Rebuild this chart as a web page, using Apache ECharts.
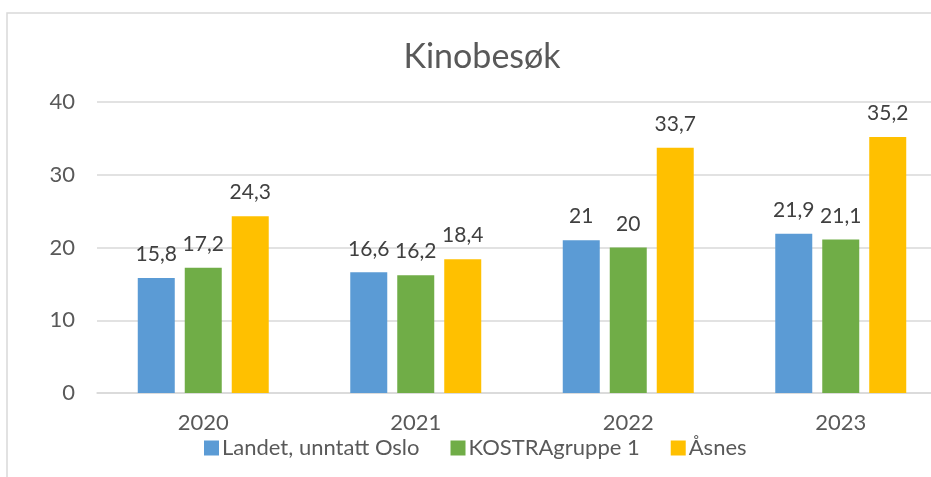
<!DOCTYPE html>
<html>
<head>
<meta charset="utf-8">
<script src="https://cdn.jsdelivr.net/npm/echarts@6/dist/echarts.min.js"></script>
<style>
  html, body { margin: 0; padding: 0; background: #fff; }
  #chart { width: 931px; height: 477px; }
</style>
</head>
<body>
<div id="chart"></div>
<script>
var years = ["2020", "2021", "2022", "2023"];
var landet = [15.8, 16.6, 21, 21.9];
var kostra = [17.2, 16.2, 20, 21.1];
var asnes = [24.3, 18.4, 33.7, 35.2];
var yTicks = [0, 10, 20, 30, 40];

var font = "Lato, 'Open Sans', sans-serif";

function fmt(v) {
  return String(v).replace(".", ",");
}

function barSeries(name, data, color) {
  return {
    name: name,
    type: "bar",
    data: data,
    barWidth: 37,
    barGap: "27%",
    itemStyle: { color: color },
    label: {
      show: true,
      position: "top",
      distance: 13,
      color: "#404040",
      fontFamily: font,
      fontSize: 21,
      formatter: function (p) { return fmt(p.value); }
    }
  };
}

var chart = echarts.init(document.getElementById("chart"));
chart.setOption({
  animation: false,
  textStyle: { fontFamily: font },
  graphic: [{
    type: "rect",
    shape: { x: 7, y: 13, width: 1200, height: 1000 },
    style: { fill: "none", stroke: "#d9d9d9", lineWidth: 1.5 },
    silent: true
  }],
  title: {
    text: "Kinobesøk",
    left: 477,
    textAlign: "center",
    top: 35,
    textStyle: { fontFamily: font, fontSize: 34, fontWeight: "normal", color: "#595959" }
  },
  legend: {
    data: ["Landet, unntatt Oslo", "KOSTRAgruppe 1", "Åsnes"],
    left: 199,
    top: 432,
    itemWidth: 15,
    itemHeight: 15,
    itemGap: 31,
    icon: "rect",
    textStyle: { fontFamily: font, fontSize: 22, color: "#595959", padding: [0, 0, 0, -2] }
  },
  grid: { left: 97, top: 102, width: 850, height: 291, containLabel: false, outerBoundsMode: "none" },
  xAxis: {
    type: "category",
    data: years,
    axisLine: { lineStyle: { color: "#d9d9d9", width: 1.5 } },
    axisTick: { show: false },
    axisLabel: { color: "#595959", fontSize: 22, fontFamily: font, margin: 19 }
  },
  yAxis: {
    type: "value",
    min: yTicks[0],
    max: yTicks[yTicks.length - 1],
    interval: 10,
    axisLine: { show: false },
    axisTick: { show: false },
    splitLine: { lineStyle: { color: "#d9d9d9", width: 1.5 } },
    axisLabel: { color: "#595959", fontSize: 22, fontFamily: font, margin: 22 }
  },
  series: [
    barSeries("Landet, unntatt Oslo", landet, "#5b9bd5"),
    barSeries("KOSTRAgruppe 1", kostra, "#70ad47"),
    barSeries("Åsnes", asnes, "#ffc000")
  ]
});
</script>
</body>
</html>
